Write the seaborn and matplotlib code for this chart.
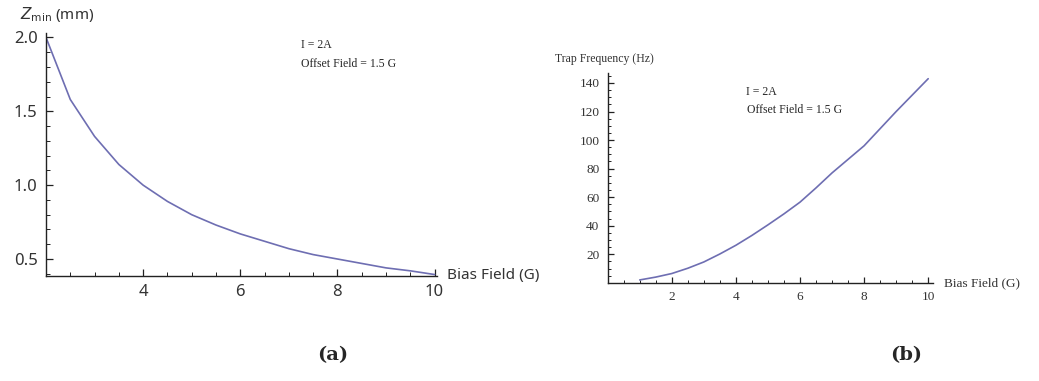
import numpy as np
import pandas as pd
import matplotlib
matplotlib.use("Agg")
import matplotlib.pyplot as plt
import seaborn as sns
from matplotlib.ticker import MultipleLocator

# values
bias_a = [2.0, 2.5, 3.0, 3.5, 4.0, 4.5, 5.0, 5.5, 6.0, 6.5, 7.0, 7.5, 8.0, 8.5, 9.0, 9.5, 10.0]
zmin = [2.0, 1.58, 1.33, 1.14, 1.0, 0.89, 0.8, 0.73, 0.67, 0.62, 0.57, 0.53, 0.5, 0.47, 0.44, 0.42, 0.395]

bias_b = [1, 1.5, 2, 2.5, 3, 3.5, 4, 4.5, 5, 5.5, 6, 6.5, 7, 7.5, 8, 8.5, 9, 9.5, 10]
trap_freq = [2.0, 4.0, 6.5, 10.2, 14.6, 20.2, 26.3, 33.2, 40.6, 48.3, 56.5, 66.5, 77.0, 86.5, 96.0, 108.0, 120.0, 131.5, 143.0]

info_lines = ["I = 2A", "Offset Field = 1.5 G"]
line_color = "#6e6eb2"

sns.set_style("white")
plt.rcParams['font.family'] = ['Liberation Serif', 'DejaVu Serif']
plt.rcParams['mathtext.fontset'] = 'dejavusans'

W, H = 1039, 381
fig = plt.figure(figsize=(W / 100, H / 100), dpi=100)

def px(x0, y0, x1, y1):
    # pixel box -> figure fraction rect
    return [x0 / W, 1 - y1 / H, (x1 - x0) / W, (y1 - y0) / H]

def style_axes(ax):
    sns.despine(ax=ax)
    for s in ["left", "bottom"]:
        ax.spines[s].set_linewidth(1.0)
        ax.spines[s].set_color("#222222")
    ax.tick_params(which="both", direction="in", color="#222222",
                   bottom=True, left=True, top=False, right=False)
    ax.tick_params(which="major", length=5, width=0.9)
    ax.tick_params(which="minor", length=3, width=0.7)

# panel (a)
ax1 = fig.add_axes(px(46, 33, 437, 276))
df_a = pd.DataFrame({"bias": bias_a, "z": zmin})
sns.lineplot(data=df_a, x="bias", y="z", ax=ax1, color=line_color, linewidth=1.2)
ax1.set_xlim(2, 10.05)
ax1.set_ylim(0.385, 2.03)
ax1.xaxis.set_major_locator(MultipleLocator(2))
ax1.xaxis.set_minor_locator(MultipleLocator(0.5))
ax1.yaxis.set_major_locator(MultipleLocator(0.5))
ax1.yaxis.set_minor_locator(MultipleLocator(0.1))
ax1.set_xticks([4, 6, 8, 10])
ax1.set_xlabel("")
ax1.set_ylabel("")
style_axes(ax1)
for lab in ax1.get_xticklabels() + ax1.get_yticklabels():
    lab.set_family(["Noto Sans", "DejaVu Sans"])
    lab.set_fontsize(12)
    lab.set_color("#333333")
ax1.tick_params(axis="both", pad=6)
fig.text(447 / W, 1 - 276 / H, "Bias Field (G)", family=["Noto Sans", "DejaVu Sans"],
         fontsize=11, color="#333333", va="center", ha="left")
fig.text(20 / W, 1 - 14 / H, r"$Z_{\mathrm{min}}$ (mm)", family=["Noto Sans", "DejaVu Sans"],
         fontsize=11, color="#333333", va="center", ha="left")
fig.text(301 / W, 1 - 45 / H, info_lines[0], fontsize=8.5, va="center", ha="left")
fig.text(301 / W, 1 - 64 / H, info_lines[1], fontsize=8.5, va="center", ha="left")

# panel (b)
ax2 = fig.add_axes(px(607.7, 73, 933, 282.8))
df_b = pd.DataFrame({"bias": bias_b, "freq": trap_freq})
sns.lineplot(data=df_b, x="bias", y="freq", ax=ax2, color=line_color, linewidth=1.2)
ax2.set_xlim(0, 10.15)
ax2.set_ylim(0, 147)
ax2.xaxis.set_major_locator(MultipleLocator(2))
ax2.xaxis.set_minor_locator(MultipleLocator(0.5))
ax2.yaxis.set_major_locator(MultipleLocator(20))
ax2.yaxis.set_minor_locator(MultipleLocator(5))
ax2.set_xticks([2, 4, 6, 8, 10])
ax2.set_yticks([20, 40, 60, 80, 100, 120, 140])
ax2.set_xlabel("")
ax2.set_ylabel("")
style_axes(ax2)
ax2.tick_params(which="major", length=4.5)
ax2.tick_params(which="minor", length=2.5)
ax2.tick_params(axis="both", pad=6)
for lab in ax2.get_xticklabels() + ax2.get_yticklabels():
    lab.set_fontsize(9.5)
    lab.set_color("#333333")
fig.text(944 / W, 1 - 283 / H, "Bias Field (G)", fontsize=9.5, color="#333333", va="center", ha="left")
fig.text(555 / W, 1 - 59 / H, "Trap Frequency (Hz)", fontsize=8.5, color="#333333", va="center", ha="left")
fig.text(746 / W, 1 - 92 / H, info_lines[0], fontsize=8.5, va="center", ha="left")
fig.text(747 / W, 1 - 110 / H, info_lines[1], fontsize=8.5, va="center", ha="left")

# sub-figure labels
fig.text(333 / W, 1 - 355 / H, "(a)", family=["DejaVu Serif"], fontweight="bold", fontsize=14,
         va="center", ha="center")
fig.text(906 / W, 1 - 355 / H, "(b)", family=["DejaVu Serif"], fontweight="bold", fontsize=14,
         va="center", ha="center")

fig.savefig("out.png", dpi=100)
